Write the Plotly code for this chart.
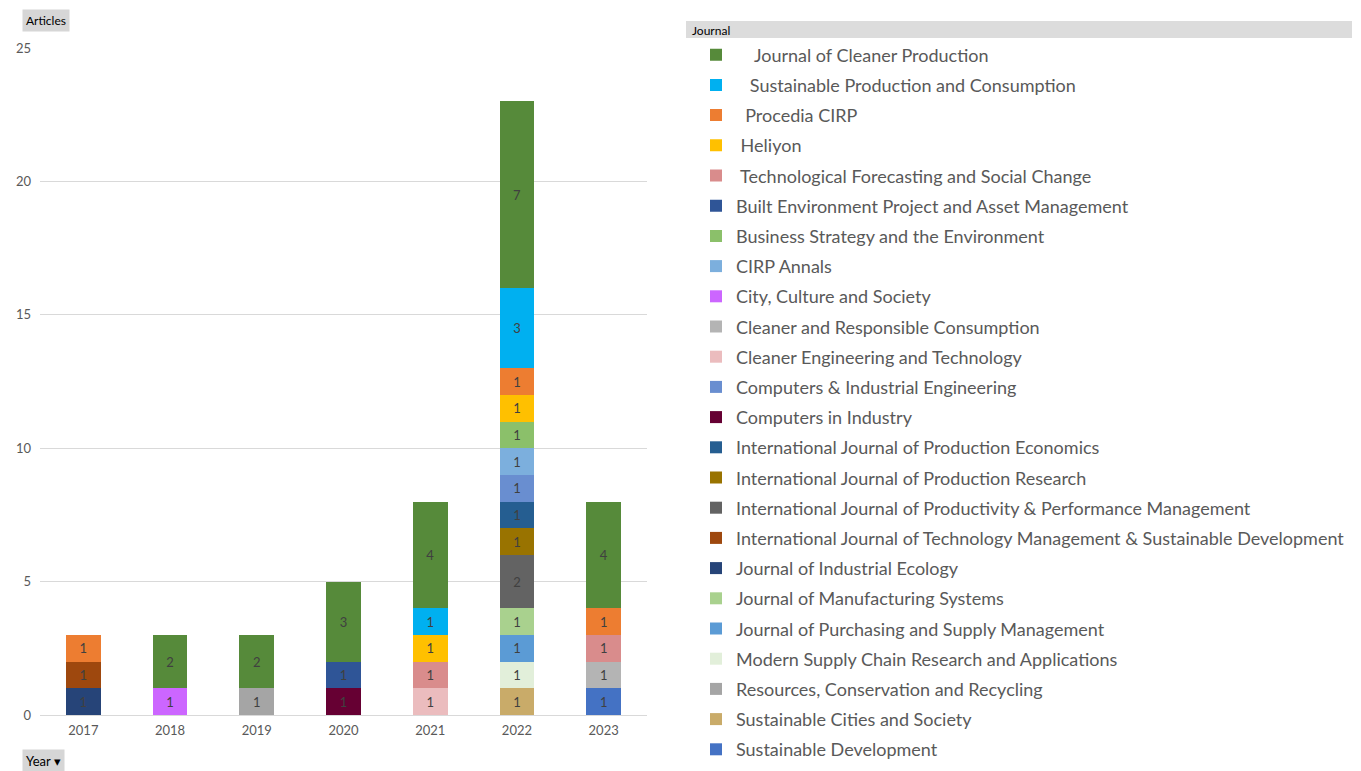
import plotly.graph_objects as go

years = ["2017", "2018", "2019", "2020", "2021", "2022", "2023"]

# Legend order (top to bottom in legend); stacking is the reverse
journals = [
    "Journal of Cleaner Production",
    "Sustainable Production and Consumption",
    "Procedia CIRP",
    "Heliyon",
    "Technological Forecasting and Social Change",
    "Built Environment Project and Asset Management",
    "Business Strategy and the Environment",
    "CIRP Annals",
    "City, Culture and Society",
    "Cleaner and Responsible Consumption",
    "Cleaner Engineering and Technology",
    "Computers & Industrial Engineering",
    "Computers in Industry",
    "International Journal of Production Economics",
    "International Journal of Production Research",
    "International Journal of Productivity & Performance Management",
    "International Journal of Technology Management & Sustainable Development",
    "Journal of Industrial Ecology",
    "Journal of Manufacturing Systems",
    "Journal of Purchasing and Supply Management",
    "Modern Supply Chain Research and Applications",
    "Resources, Conservation and Recycling",
    "Sustainable Cities and Society",
    "Sustainable Development",
]

# leading indent seen in the legend for the first few entries
legend_indent = [4, 3, 2, 1, 1] + [0] * 19

counts = [
    [0, 2, 2, 3, 4, 7, 4],
    [0, 0, 0, 0, 1, 3, 0],
    [1, 0, 0, 0, 0, 1, 1],
    [0, 0, 0, 0, 1, 1, 0],
    [0, 0, 0, 0, 1, 0, 1],
    [0, 0, 0, 1, 0, 0, 0],
    [0, 0, 0, 0, 0, 1, 0],
    [0, 0, 0, 0, 0, 1, 0],
    [0, 1, 0, 0, 0, 0, 0],
    [0, 0, 0, 0, 0, 0, 1],
    [0, 0, 0, 0, 1, 0, 0],
    [0, 0, 0, 0, 0, 1, 0],
    [0, 0, 0, 1, 0, 0, 0],
    [0, 0, 0, 0, 0, 1, 0],
    [0, 0, 0, 0, 0, 1, 0],
    [0, 0, 0, 0, 0, 2, 0],
    [1, 0, 0, 0, 0, 0, 0],
    [1, 0, 0, 0, 0, 0, 0],
    [0, 0, 0, 0, 0, 1, 0],
    [0, 0, 0, 0, 0, 1, 0],
    [0, 0, 0, 0, 0, 1, 0],
    [0, 0, 1, 0, 0, 0, 0],
    [0, 0, 0, 0, 0, 1, 0],
    [0, 0, 0, 0, 0, 0, 1],
]

colors = [
    "#568A3A", "#00B0F0", "#ED7D31", "#FFC000", "#D98C8C",
    "#2F5597", "#8BC06A", "#7CAFDD", "#CC66FF", "#B4B4B4",
    "#EBBCBE", "#698ED0", "#660033", "#255E91", "#997300",
    "#636363", "#9E480E", "#264478", "#A9D18E", "#5B9BD5",
    "#E2EFDA", "#A5A5A5", "#C9AB69", "#4472C4",
]

# The page body has an 8px margin; work in reference pixels and shift.
OFF = 8
W, H = 1361 - OFF, 771 - OFF
L = 40 - OFF
R = W - (647 - OFF)
T = 48 - OFF
B = H - (715 - OFF)
pw, ph = W - L - R, H - T - B


def px_x(px):
    return (px - OFF - L) / pw


def px_y(py):
    return (H - B - (py - OFF)) / ph


def cx(px):
    return (px - OFF) / W


def cy(py):
    return 1 - (py - OFF) / H


fig = go.Figure()
n = len(journals)
for i in reversed(range(n)):
    vals = [v if v else None for v in counts[i]]
    txt = [str(v) if v else "" for v in counts[i]]
    fig.add_trace(go.Bar(
        x=years, y=vals, name="\u00a0" * legend_indent[i] + journals[i],
        marker=dict(color=colors[i], line=dict(width=0)),
        text=txt, textposition="inside", insidetextanchor="middle",
        textangle=0, textfont=dict(size=13, color="#404040", family="Lato"),
        legendgroup=f"g{i}", legendrank=i,
        cliponaxis=False,
    ))

fig.update_layout(
    width=W, height=H,
    margin=dict(l=L, r=R, t=T, b=B, autoexpand=False),
    barmode="stack", bargap=0.6,
    plot_bgcolor="white", paper_bgcolor="white",
    font=dict(family="Lato", color="#595959"),
    uniformtext=dict(minsize=13, mode="show"),
    showlegend=True,
    legend=dict(
        xref="container", yref="container",
        x=cx(696), xanchor="left", y=cy(36.5), yanchor="top",
        traceorder="grouped", tracegroupgap=3.8, maxheight=760,
        font=dict(size=18, color="#595959", family="Lato"),
        itemclick=False, itemdoubleclick=False,
        bgcolor="rgba(0,0,0,0)",
    ),
    xaxis=dict(
        type="category", showgrid=False, showline=False, zeroline=False,
        tickfont=dict(size=13, color="#595959"), ticks="",
        ticklabelstandoff=6,
    ),
    yaxis=dict(
        range=[0, 25], tickvals=[0, 5, 10, 15, 20, 25],
        showgrid=True, gridcolor="#D9D9D9", gridwidth=1,
        zeroline=True, zerolinecolor="#D9D9D9", zerolinewidth=1,
        showline=False, ticks="", ticklen=0,
        tickfont=dict(size=13, color="#595959"),
        ticklabelstandoff=8,
    ),
    shapes=[
        dict(type="rect", xref="paper", yref="paper",
             x0=px_x(686), x1=px_x(1352), y0=px_y(38), y1=px_y(21),
             fillcolor="#DCDCDC", line=dict(width=0), layer="below"),
        dict(type="line", xref="paper", yref="paper",
             x0=px_x(7), x1=px_x(7), y0=px_y(771), y1=px_y(12),
             line=dict(color="#D9D9D9", width=1)),
    ],
    annotations=[
        dict(text="Journal", xref="paper", yref="paper",
             x=px_x(690), y=px_y(30), xanchor="left", yanchor="middle",
             showarrow=False, font=dict(size=12, color="#000000", family="Lato")),
        dict(text="Articles", xref="paper", yref="paper",
             x=px_x(22), y=px_y(21), xanchor="left", yanchor="middle",
             showarrow=False, bgcolor="#D6D6D6", borderpad=3,
             font=dict(size=12, color="#000000", family="Lato")),
        dict(text="Year \u25BE", xref="paper", yref="paper",
             x=px_x(22), y=px_y(761), xanchor="left", yanchor="middle",
             showarrow=False, bgcolor="#D6D6D6", borderpad=3,
             font=dict(size=13, color="#000000", family="Lato")),
    ],
)

fig.write_html("out.html")
